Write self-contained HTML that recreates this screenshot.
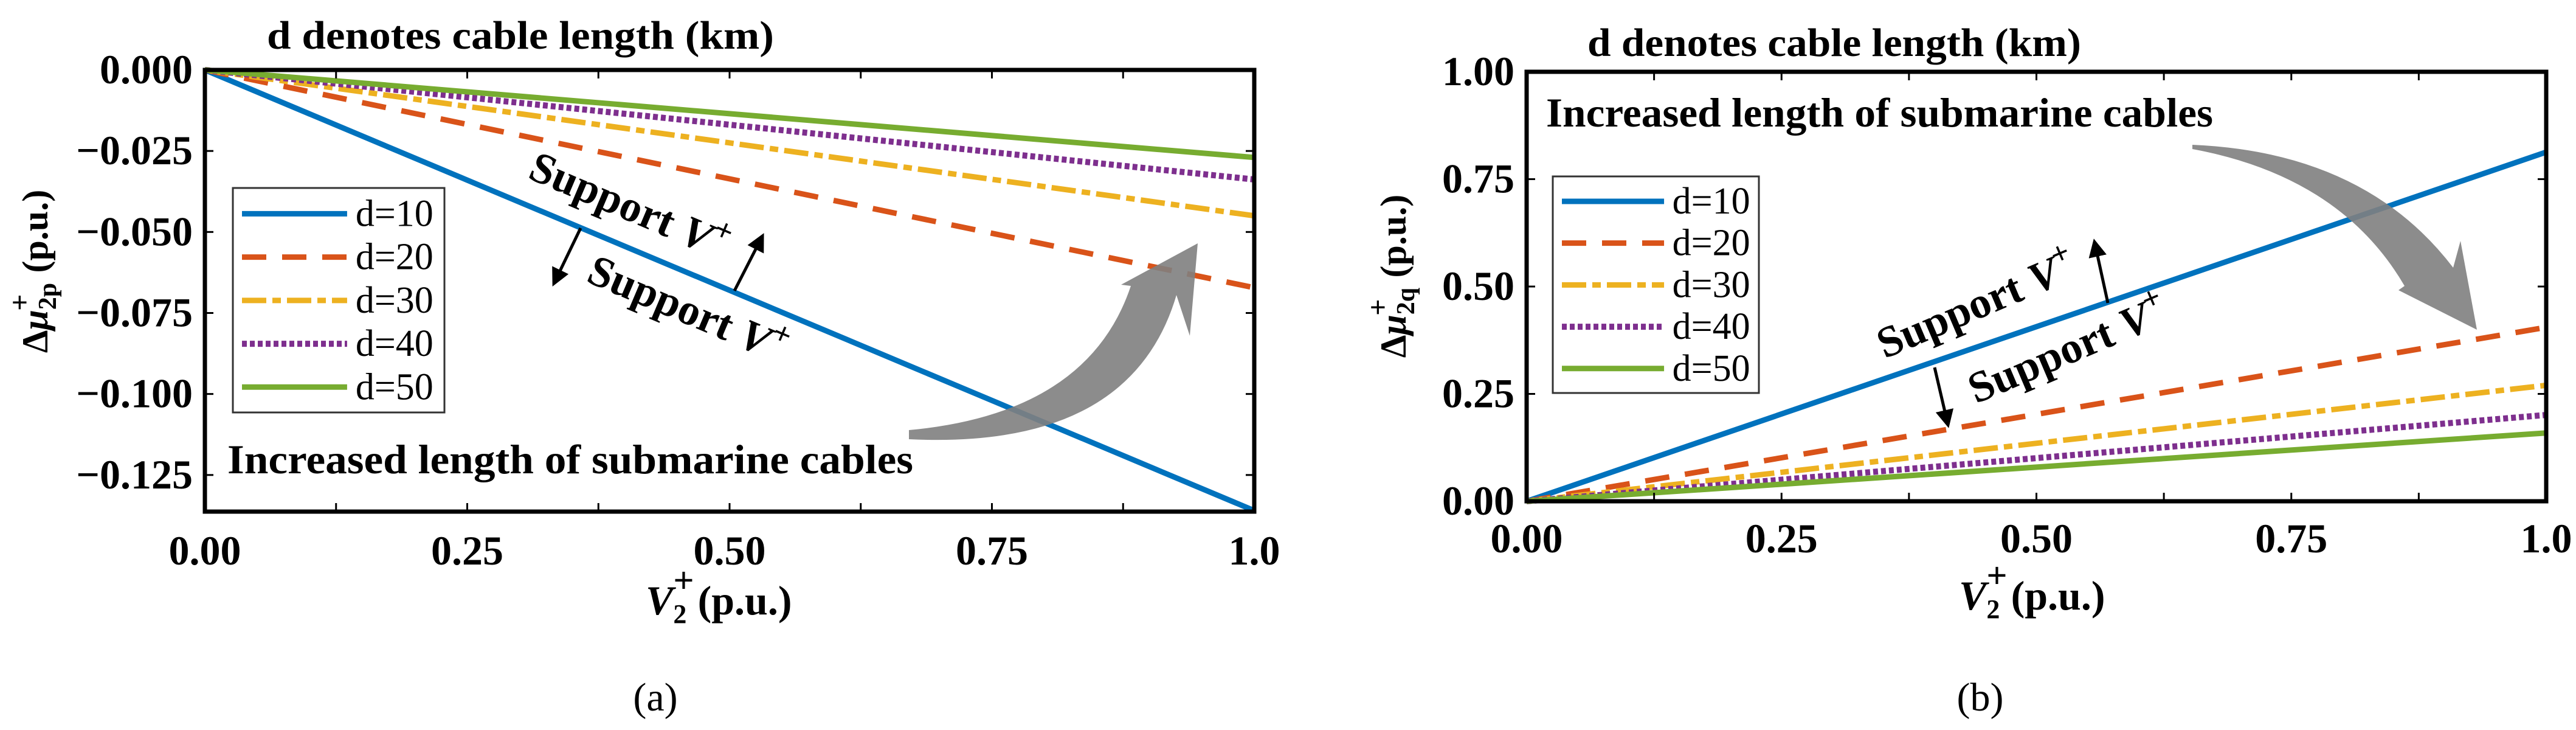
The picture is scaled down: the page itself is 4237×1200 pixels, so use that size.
<!DOCTYPE html>
<html><head><meta charset="utf-8"><style>
html,body{margin:0;padding:0;background:#fff;}
svg{display:block;font-family:"Liberation Serif",serif;}
svg text{font-family:"Liberation Serif",serif;}
</style></head><body>
<svg id="fig" width="4237" height="1200" viewBox="0 0 4237 1200" xmlns="http://www.w3.org/2000/svg" font-family="Liberation Serif, serif">
<defs>
<marker id="ah" markerWidth="6" markerHeight="6" refX="4" refY="3" orient="auto" markerUnits="strokeWidth"><path d="M0,0 L6,3 L0,6 Z" fill="#000"/></marker>
</defs>
</svg>
<script>
const xTicks=[0,0.25,0.5,0.75,1.0];
const xTickLabels=["0.00","0.25","0.50","0.75","1.0"];
const seriesNames=["d=10","d=20","d=30","d=40","d=50"];
const leftEndValues=[-0.136,-0.0672,-0.045,-0.0338,-0.027];
const rightEndValues=[0.813,0.405,0.27,0.201,0.159];
const leftYTicks=[0,-0.025,-0.05,-0.075,-0.1,-0.125];
const leftYTickLabels=["0.000","\u22120.025","\u22120.050","\u22120.075","\u22120.100","\u22120.125"];
const rightYTicks=[0,0.25,0.5,0.75,1.0];
const rightYTickLabels=["0.00","0.25","0.50","0.75","1.00"];
const colors=["#0072BD","#D95319","#EDB120","#7E2F8E","#77AC30"];
const dashes=["none","40 26","40 10 14 10","8 5","none"];

const NS="http://www.w3.org/2000/svg";
const svg=document.getElementById('fig');
function mk(tag,attrs,parent){const e=document.createElementNS(NS,tag);for(const k in attrs)e.setAttribute(k,attrs[k]);(parent||svg).appendChild(e);return e;}

function panel(p){
  const g=mk('g',{});
  
  
  const X=v=>p.x0+(v-0)/(1-0)*(p.x1-p.x0);
  const Y=v=>p.y0+(p.ymax-v)/(p.ymax-p.ymin)*(p.y1-p.y0);
  p.vals.forEach((v,i)=>{
    const l=mk('line',{x1:X(0),y1:Y(0),x2:X(1),y2:Y(v),stroke:colors[i],'stroke-width':i==3?10:9,'stroke-dasharray':dashes[i]},g);
    
    
  });
  const fr=mk('rect',{x:p.x0,y:p.y0,width:p.x1-p.x0,height:p.y1-p.y0,fill:'none',stroke:'#000','stroke-width':7},g);
  
  
  for(let k=1;k<8;k++){const xv=k*0.125;
    mk('line',{x1:X(xv),y1:p.y0,x2:X(xv),y2:p.y0+14,stroke:'#000','stroke-width':3},g);
    mk('line',{x1:X(xv),y1:p.y1,x2:X(xv),y2:p.y1-14,stroke:'#000','stroke-width':3},g);}
  xTicks.forEach((t,i)=>{
    const tx=mk('text',{x:X(t),y:p.xlabY,'font-size':68,'font-weight':'bold','text-anchor':'middle'},g);
    tx.textContent=xTickLabels[i];
    
    
  });
  p.yt.forEach((t,i)=>{
    mk('line',{x1:p.x0,y1:Y(t),x2:p.x0+14,y2:Y(t),stroke:'#000','stroke-width':3},g);
    mk('line',{x1:p.x1,y1:Y(t),x2:p.x1-14,y2:Y(t),stroke:'#000','stroke-width':3},g);
    const tx=mk('text',{x:p.x0-20,y:Y(t)+22,'font-size':68,'font-weight':'bold','text-anchor':'end'},g);
    tx.textContent=p.ytl[i];
    
    
  });
  const lg=mk('g',{},g);
  
  
  mk('rect',{x:p.lx,y:p.ly,width:p.lw,height:p.lh,fill:'#fff',stroke:'#333','stroke-width':3},lg);
  seriesNames.forEach((n,i)=>{
    const yy=p.ly+p.lh*(0.115+i*0.193);
    mk('line',{x1:p.lx+15,y1:yy,x2:p.lx+p.lw*0.54,y2:yy,stroke:colors[i],'stroke-width':i==3?10:9,'stroke-dasharray':dashes[i]},lg);
    const tx=mk('text',{x:p.lx+p.lw*0.58,y:yy+20,'font-size':62,'font-family':'Liberation Serif, serif'},lg);
    tx.textContent=n;
    
    
  });
  return {X,Y,g};
}

const L=panel({id:'left',x0:337,x1:2063,y0:115,y1:841,ymin:-0.1363,ymax:0,vals:leftEndValues,yt:leftYTicks,ytl:leftYTickLabels,xlabY:928,lx:383,ly:309,lw:348,lh:369});
const R=panel({id:'right',x0:2511,x1:4188,y0:118,y1:824,ymin:0,ymax:1,vals:rightEndValues,yt:rightYTicks,ytl:rightYTickLabels,xlabY:908,lx:2554,ly:290,lw:339,lh:356});

function txt(s,a,name){const t=mk('text',a);t.innerHTML=s;return t;}
txt('d denotes cable length (km)',{x:439,y:80,'font-size':66,'font-weight':'bold',textLength:834,lengthAdjust:'spacingAndGlyphs'},'left-title');
txt('d denotes cable length (km)',{x:2611,y:92,'font-size':66,'font-weight':'bold',textLength:812,lengthAdjust:'spacingAndGlyphs'},'right-title');
txt('Increased length of submarine cables',{x:374,y:778,'font-size':68,'font-weight':'bold',textLength:1128,lengthAdjust:'spacingAndGlyphs'},'left-annotation');
txt('Increased length of submarine cables',{x:2543,y:208,'font-size':68,'font-weight':'bold',textLength:1097,lengthAdjust:'spacingAndGlyphs'},'right-annotation');
txt('<tspan font-style="italic">V</tspan><tspan font-size="44" dy="14">2</tspan><tspan font-size="60" dy="-50" dx="-22">+</tspan><tspan dy="36" dx="6">(p.u.)</tspan>',{x:1062,y:1010,'font-size':68,'font-weight':'bold'},'left-x-axis-title');
txt('<tspan font-style="italic">V</tspan><tspan font-size="44" dy="14">2</tspan><tspan font-size="60" dy="-50" dx="-22">+</tspan><tspan dy="36" dx="6">(p.u.)</tspan>',{x:3222,y:1002,'font-size':68,'font-weight':'bold'},'right-x-axis-title');
txt('(a)',{x:1078,y:1168,'font-size':66,'text-anchor':'middle'},'left-caption');
txt('(b)',{x:3257,y:1168,'font-size':66,'text-anchor':'middle'},'right-caption');
txt('\u0394<tspan font-style="italic">\u03bc</tspan><tspan font-size="42" dy="14">2p</tspan><tspan font-size="48" dy="-44" dx="-46">+</tspan><tspan dy="30" dx="20"> (p.u.)</tspan>',{x:0,y:0,'font-size':60,'font-weight':'bold','text-anchor':'middle',transform:'translate(78,446) rotate(-90)'},'left-y-axis-title');
txt('\u0394<tspan font-style="italic">\u03bc</tspan><tspan font-size="42" dy="14">2q</tspan><tspan font-size="48" dy="-44" dx="-46">+</tspan><tspan dy="30" dx="20"> (p.u.)</tspan>',{x:0,y:0,'font-size':60,'font-weight':'bold','text-anchor':'middle',transform:'translate(2312,454) rotate(-90)'},'right-y-axis-title');
const sup='Support <tspan font-style="italic">V</tspan><tspan font-size="52" dy="-30">+</tspan>';
txt(sup,{x:0,y:0,'font-size':72,'font-weight':'bold',transform:'translate(866,292) rotate(23)'},'left-support-label-upper');
txt(sup,{x:0,y:0,'font-size':72,'font-weight':'bold',transform:'translate(962,462) rotate(23)'},'left-support-label-lower');
txt(sup,{x:0,y:0,'font-size':72,'font-weight':'bold',transform:'translate(3100,590) rotate(-23)'},'right-support-label-upper');
txt(sup,{x:0,y:0,'font-size':72,'font-weight':'bold',transform:'translate(3250,664) rotate(-23)'},'right-support-label-lower');
function arrow(x1,y1,x2,y2,n){const a=mk('line',{x1,y1,x2,y2,stroke:'#000','stroke-width':5,'marker-end':'url(#ah)'});}
arrow(955,375,913,462,'left-arrow-down');arrow(1208,478,1252,392,'left-arrow-up');
arrow(3467,498,3446,402,'right-arrow-up');arrow(3182,604,3203,694,'right-arrow-down');
const c1=mk('path',{d:'M1495,707 Q1790,680 1860,470 L1844,468 L1970,400 L1957,552 L1935,485 Q1860,740 1495,722 Z',fill:'#808080','fill-opacity':0.9});

const c2=mk('path',{d:'M3606,245 Q3850,290 3955,470 L3945,477 L4074,542 L4047,396 L4035,440 Q3890,250 3606,238 Z',fill:'#808080','fill-opacity':0.9});

</script>
</body></html>
